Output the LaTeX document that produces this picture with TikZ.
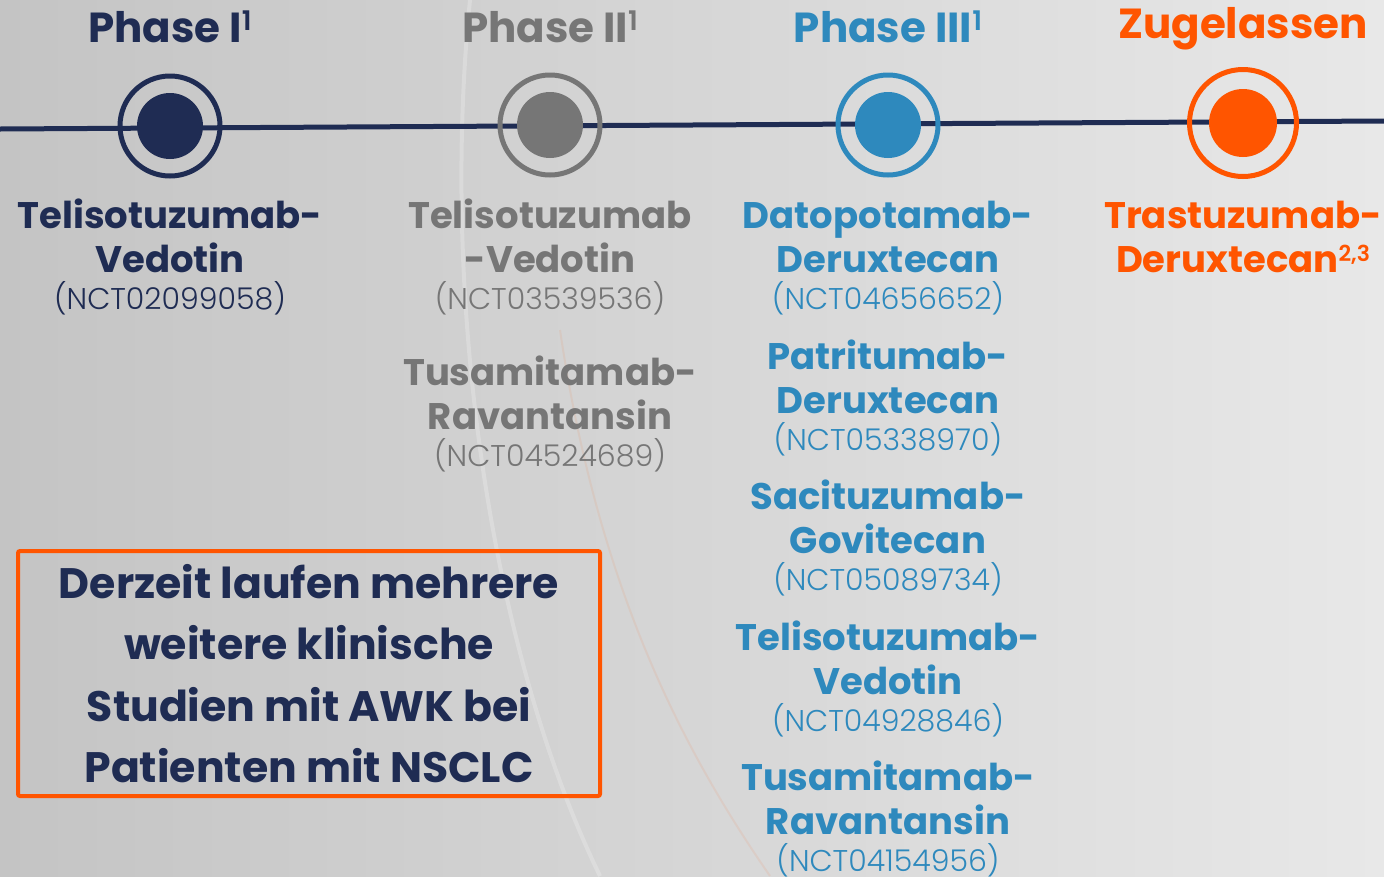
\documentclass[tikz,border=0pt]{standalone}
\usepackage{fontspec}
\setmainfont{Poppins}
\IfFontExistsTF{Poppins Light}{\newfontfamily\nctfont{Poppins Light}}{\newfontfamily\nctfont{Poppins}}
\definecolor{navy}{HTML}{1F2C53}
\definecolor{grayc}{HTML}{767676}
\definecolor{bluec}{HTML}{2E89BD}
\definecolor{orangec}{HTML}{FF5500}
\definecolor{bgL}{HTML}{C4C4C4}
\definecolor{bgM}{HTML}{DADADA}
\definecolor{bgR}{HTML}{E8E8E8}
\tikzset{
  x=1pt, y=-1pt,
  title/.style={inner sep=0pt, anchor=base, font=\fontsize{42}{42}\selectfont\bfseries},
  drugname/.style={inner sep=0pt, anchor=base, font=\fontsize{37}{37}\selectfont\bfseries},
  nct/.style={inner sep=0pt, anchor=base, font=\fontsize{30}{30}\selectfont\nctfont},
  ring/.style={draw=#1, line width=5pt},
  dot/.style={fill=#1},
  timeline/.style={draw=navy, line width=5pt},
  infobox/.style={draw=orangec, line width=4pt, rounded corners=2pt, align=center,
     minimum width=582pt, minimum height=245pt, inner sep=0pt, text=navy,
     font=\fontsize{42.6}{61.5}\selectfont\bfseries}
}
\newcommand\supone{\raisebox{12pt}{\fontsize{27}{27}\selectfont\nctfont 1}}
\newcommand\drugblock[7]{%
  \node[drugname, text=#7] (#1-a) at (#2,{#3}) {#4};
  \node[drugname, text=#7] (#1-b) at (#2,{#3+44}) {#5};
  \node[nct, text=#7] (#1-c) at (#2,{#3+81}) {(#6)};
}
\begin{document}
\begin{tikzpicture}
\useasboundingbox (0,0) rectangle (1384,876);
\fill[left color=bgL, middle color=bgM, right color=bgR] (0,0) rectangle (1384,876);
% faint decorative arcs
\draw[white, opacity=0.22, line width=4pt] (470,0) .. controls (440,300) and (490,650) .. (600,876);
\draw[orangec, opacity=0.08, line width=2pt] (560,330) .. controls (600,600) and (690,760) .. (770,876);
% timeline
\coordinate (lstart) at (0,129);
\coordinate (lend) at (1384,121);
\draw[timeline] (lstart) -- (lend);
% milestones
\node[ring=navy, circle, minimum size=100pt, inner sep=0pt] (r1) at (170,126) {};
\fill[dot=navy] (r1.center) circle (33pt);
\node[ring=grayc, circle, minimum size=100pt, inner sep=0pt] (r2) at (550,125) {};
\fill[dot=grayc] (r2.center) circle (33pt);
\node[ring=bluec, circle, minimum size=100pt, inner sep=0pt] (r3) at (888,125) {};
\fill[dot=bluec] (r3.center) circle (33pt);
\node[ring=orangec, circle, minimum size=107pt, inner sep=0pt] (r4) at (1243,123) {};
\fill[dot=orangec] (r4.center) circle (34pt);
% titles
\node[title, text=navy] (t1) at (170,42) {Phase I\supone};
\node[title, text=grayc] (t2) at (550,42) {Phase II\supone};
\node[title, text=bluec] (t3) at (888,42) {Phase III\supone};
\node[title, text=orangec] (t4) at (1243,38) {Zugelassen};
% column 1
\drugblock{p1a}{170}{228}{Telisotuzumab-}{Vedotin}{NCT02099058}{navy}
% column 2
\drugblock{p2a}{550}{228}{Telisotuzumab}{-Vedotin}{NCT03539536}{grayc}
\drugblock{p2b}{550}{385}{Tusamitamab-}{Ravantansin}{NCT04524689}{grayc}
% column 3
\drugblock{p3a}{888}{228}{Datopotamab-}{Deruxtecan}{NCT04656652}{bluec}
\drugblock{p3b}{888}{369}{Patritumab-}{Deruxtecan}{NCT05338970}{bluec}
\drugblock{p3c}{888}{509}{Sacituzumab-}{Govitecan}{NCT05089734}{bluec}
\drugblock{p3d}{888}{650}{Telisotuzumab-}{Vedotin}{NCT04928846}{bluec}
\drugblock{p3e}{888}{790}{Tusamitamab-}{Ravantansin}{NCT04154956}{bluec}
% column 4
\node[drugname, text=orangec] (p4-a) at (1243,228) {Trastuzumab-};
\node[drugname, text=orangec] (p4-b) at (1243,272) {Deruxtecan\raisebox{11pt}{\fontsize{22}{22}\selectfont\nctfont 2,3}};
% info box
\node[infobox] (info) at (309,673.5) {Derzeit laufen mehrere\\weitere klinische\\Studien mit AWK bei\\Patienten mit NSCLC};
\end{tikzpicture}
\end{document}
